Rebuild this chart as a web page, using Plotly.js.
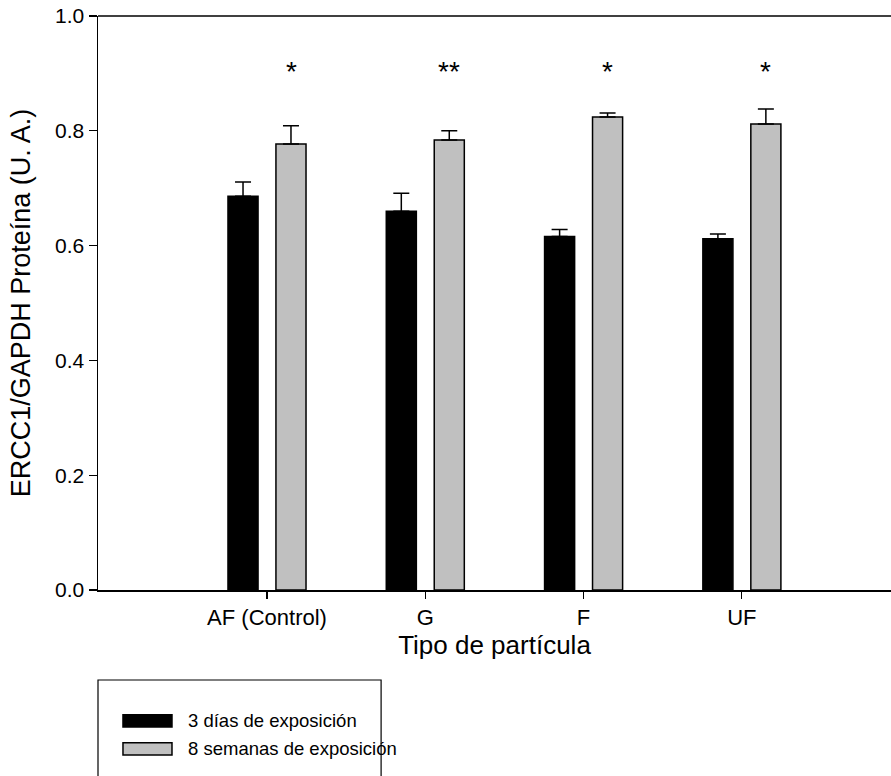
<!DOCTYPE html>
<html>
<head>
<meta charset="utf-8">
<script src="https://cdn.plot.ly/plotly-3.0.1.min.js"></script>
<style>html,body{margin:0;padding:0;background:#fff;}#chart{width:891px;height:776px;}</style>
</head>
<body>
<div id="chart"></div>
<script>
const categories = ["AF (Control)", "G", "F", "UF"];
const days3 = [0.686, 0.660, 0.616, 0.612];
const days3Err = [0.025, 0.031, 0.012, 0.008];
const weeks8 = [0.777, 0.784, 0.824, 0.812];
const weeks8Err = [0.032, 0.016, 0.007, 0.026];
const significance = ["*", "**", "*", "*"];
const seriesNames = ["3 días de exposición", "8 semanas de exposición"];
const seriesColors = ["#000000", "#c0c0c0"];

const FONT = '"Liberation Sans", Arial, sans-serif';

const traces = [
  {
    type: 'bar', name: seriesNames[0], x: categories, y: days3,
    marker: {color: seriesColors[0], line: {color: '#000', width: 1.5}},
    error_y: {type: 'data', symmetric: false, array: days3Err, arrayminus: days3Err.map(() => 0),
              color: '#000', thickness: 1.5, width: 8}
  },
  {
    type: 'bar', name: seriesNames[1], x: categories, y: weeks8,
    marker: {color: seriesColors[1], line: {color: '#000', width: 1.5}},
    error_y: {type: 'data', symmetric: false, array: weeks8Err, arrayminus: weeks8Err.map(() => 0),
              color: '#000', thickness: 1.5, width: 8}
  }
];

const annotations = categories.map((c, i) => ({
  x: c, y: 0.904, xref: 'x', yref: 'y', text: significance[i], showarrow: false,
  xshift: 24, yanchor: 'middle', font: {family: FONT, size: 28, color: '#000'}
}));

// custom legend (wide swatches like the original)
const legY = [-0.228, -0.2768];
seriesNames.forEach((n, i) => {
  annotations.push({
    xref: 'paper', yref: 'paper', x: 0.111, y: legY[i], xanchor: 'left', yanchor: 'middle',
    text: n, showarrow: false, font: {family: FONT, size: 18.5, color: '#000'}
  });
});

const shapes = [
  {type: 'line', xref: 'paper', yref: 'paper', x0: 0, x1: 1.02, y0: 1, y1: 1, line: {color: '#000', width: 1.5}},
  {type: 'rect', xref: 'paper', yref: 'paper', x0: 0, x1: 0.357, y0: -0.1568, y1: -0.37,
   line: {color: '#000', width: 1.2}, fillcolor: 'rgba(0,0,0,0)'}
];
seriesNames.forEach((n, i) => {
  shapes.push({type: 'rect', xref: 'paper', yref: 'paper', x0: 0.0315, x1: 0.0933,
    y0: legY[i] + 0.0105, y1: legY[i] - 0.0105,
    line: {color: '#000', width: 1.5}, fillcolor: seriesColors[i]});
});

const layout = {
  width: 891, height: 776,
  margin: {l: 98, r: 0, t: 16, b: 186},
  paper_bgcolor: '#fff', plot_bgcolor: '#fff',
  font: {family: FONT, size: 22, color: '#000'},
  showlegend: false,
  barmode: 'group', bargap: 0.394, bargroupgap: 0.373,
  xaxis: {
    type: 'category', categoryorder: 'array', categoryarray: categories,
    range: [-1.0676, 3.942], showline: true, linecolor: '#000', linewidth: 1.5,
    ticks: 'outside', ticklen: 7, tickcolor: '#000', tickwidth: 1.2,
    showgrid: false, zeroline: false, fixedrange: true,
    tickfont: {family: FONT, size: 22, color: '#000'},
    title: {text: 'Tipo de partícula', font: {family: FONT, size: 26, color: '#000'}, standoff: 6}
  },
  yaxis: {
    range: [0, 1], dtick: 0.2, tick0: 0, tickformat: '.1f',
    showline: true, linecolor: '#000', linewidth: 1.5,
    ticks: 'outside', ticklen: 8, tickcolor: '#000', tickwidth: 1.2,
    showgrid: false, zeroline: false, fixedrange: true,
    tickfont: {family: FONT, size: 21, color: '#000'},
    title: {text: 'ERCC1/GAPDH Proteína (U. A.)', font: {family: FONT, size: 27, color: '#000'}, standoff: 16}
  },
  annotations: annotations,
  shapes: shapes
};

Plotly.newPlot('chart', traces, layout, {displayModeBar: false, staticPlot: true});
</script>
</body>
</html>
